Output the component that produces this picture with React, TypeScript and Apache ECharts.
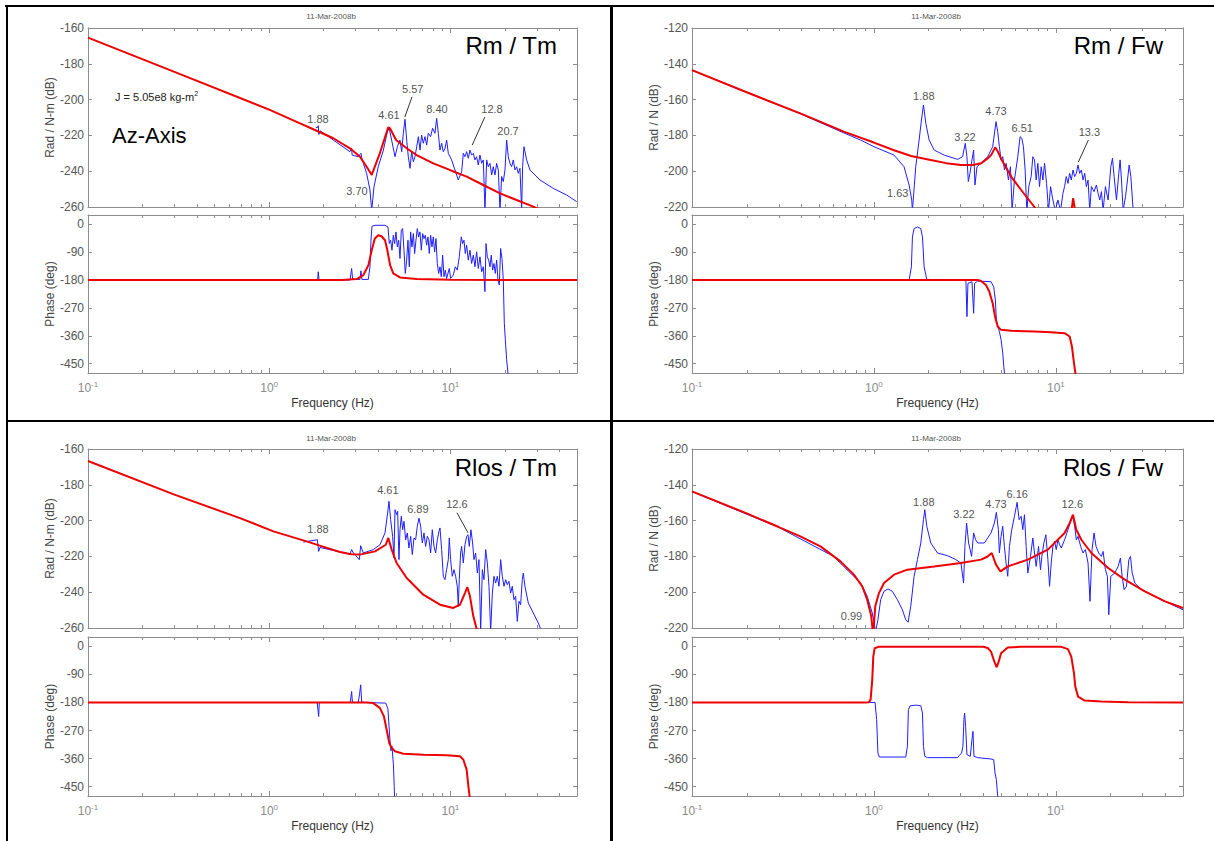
import { useEffect, useRef } from "react";
import * as echarts from "echarts";

type Pt = [number, number];
type Note = { t: string; f: number; v: number };

const FONT = "'Liberation Sans', Arial, Helvetica, sans-serif";
const AX = "#8c8c8c";
const BLUE = "#1f1fff";
const RED = "#ee0000";

// ---------- axis ticks ----------
const FREQ_MIN = 0.1;
const FREQ_MAX = 50;
const decadeTickFreqs = [0.1, 1, 10];
const minorTickFreqs = [0.2, 0.3, 0.4, 0.5, 0.6, 0.7, 0.8, 0.9, 2, 3, 4, 5, 6, 7, 8, 9, 20, 30, 40];
const phaseTickValues = [0, -90, -180, -270, -360, -450];
const PHASE_MIN = -480;
const PHASE_MAX = 30;

// ---------- Rm / Tm ----------
const rmTmMagModel: Pt[] = [
  [0.1, -165.4], [0.3, -184.5], [1.0, -205.6], [1.48, -213.3], [1.83, -217.4], [2.26, -221.6], [2.79, -227.2],
  [3.17, -231.9], [3.45, -237.5], [3.68, -242.1], [4.08, -230.0], [4.54, -215.5], [4.64, -216.0], [5.02, -222.6],
  [5.74, -227.2], [6.52, -231.0], [8.05, -235.6], [9.92, -239.3], [12.3, -243.0], [15.2, -247.7], [18.8, -252.4],
  [23.2, -256.1], [28.7, -259.8], [32, -262],
];
const rmTmMagMeas: Pt[] = [
  [1.81, -215.7], [1.85, -215.5], [1.867, -214.6], [1.88, -219.5], [1.91, -217.4], [2.26, -222.6], [2.79, -229.1],
  [2.85, -227.0], [2.87, -231.0], [3.10, -231.9], [3.21, -230.0], [3.25, -233.0], [3.31, -235.6], [3.45, -241.2],
  [3.60, -250.5], [3.68, -262], [3.79, -248.6], [4.00, -237.5], [4.27, -228.2], [4.49, -217.9], [4.60, -216.0],
  [4.74, -222.6], [4.95, -231.9], [5.10, -226.3], [5.27, -222.6], [5.39, -229.1], [5.50, -218.8], [5.62, -211.0],
  [5.74, -222.6], [5.86, -231.9], [5.99, -238.4], [6.11, -229.1], [6.25, -234.7], [6.38, -231.9], [6.52, -226.3],
  [6.66, -220.7], [6.80, -228.2], [6.94, -219.8], [7.09, -224.4], [7.24, -220.7], [7.40, -225.4], [7.55, -218.8],
  [7.78, -220.7], [7.98, -216.0], [8.22, -218.8], [8.40, -210.5], [8.58, -218.8], [8.76, -228.2], [8.95, -224.4],
  [9.14, -229.1], [9.34, -227.2], [9.54, -222.6], [9.74, -230.0], [10.16, -233.7], [10.60, -239.3], [11.06, -244.9],
  [11.54, -240.3], [11.79, -230.0], [12.04, -231.9], [12.30, -229.1], [12.56, -232.8], [12.83, -228.2], [13.10, -231.0],
  [13.39, -230.0], [13.67, -233.7], [13.96, -231.9], [14.26, -236.5], [14.57, -231.0], [14.88, -235.6], [15.20, -233.7],
  [15.52, -262], [15.86, -233.7], [16.20, -237.5], [16.54, -235.6], [16.90, -242.1], [17.26, -237.5], [17.63, -242.1],
  [18.01, -235.6], [18.39, -239.3], [18.79, -262], [19.19, -243.0], [19.60, -245.8], [20.02, -239.3], [20.45, -222.6],
  [20.88, -231.9], [21.33, -235.6], [21.79, -237.5], [22.25, -233.7], [22.73, -239.3], [23.22, -237.5], [23.71, -241.2],
  [24.22, -238.4], [24.74, -262], [25.05, -237.5], [25.48, -226.3], [26.36, -233.7], [27.50, -239.3], [31.22, -244.9],
  [36.99, -249.6], [43.82, -253.3], [49.78, -257.0],
];
const rmTmPhaseModel: Pt[] = [
  [0.1, -180], [2.5, -179.5], [3.04, -176.8], [3.31, -163.9], [3.53, -131.8], [3.68, -83.6], [3.83, -46.1],
  [4.0, -35.4], [4.17, -38.6], [4.36, -51.4], [4.49, -83.6], [4.65, -131.8], [4.84, -158.6], [5.27, -171.4],
  [6.52, -176.8], [10, -179], [50, -180],
];
const rmTmPhaseMeas: Pt[] = [
  [1.813, -180], [1.851, -177.9], [1.867, -153.2], [1.883, -177.9], [1.907, -180], [2.793, -180], [2.852, -142.5],
  [2.888, -177.9], [3.17, -177.9], [3.211, -150], [3.252, -177.9], [3.525, -177.9], [3.60, -137.1], [3.646, -51.4],
  [3.694, -6.4], [3.837, -3.2], [4.356, -3.2], [4.525, -8.6], [4.603, -62.1], [4.682, -51.4], [4.762, -83.6],
  [4.843, -35.4], [4.925, -62.1], [5.01, -24.6], [5.096, -72.9], [5.183, -51.4], [5.272, -110.4], [5.362, -19.3],
  [5.453, -13.9], [5.546, -83.6], [5.641, -158.6], [5.738, -115.7], [5.834, -51.4], [5.935, -137.1], [6.035, -24.6],
  [6.138, -72.9], [6.245, -30.0], [6.351, -94.3], [6.459, -51.4], [6.569, -13.9], [6.682, -40.7], [6.797, -24.6],
  [6.912, -83.6], [7.031, -30.0], [7.151, -46.1], [7.274, -35.4], [7.396, -67.5], [7.522, -40.7], [7.652, -94.3],
  [7.782, -35.4], [7.916, -72.9], [8.05, -40.7], [8.188, -88.9], [8.329, -46.1], [8.471, -126.4], [8.617, -158.6],
  [8.763, -137.1], [8.913, -169.3], [9.066, -99.6], [9.222, -169.3], [9.379, -147.9], [9.537, -174.6], [9.865, -142.5],
  [10.03, -174.6], [10.38, -163.9], [10.65, -137.1], [10.92, -147.9], [11.2, -105.0], [11.49, -40.7], [11.69, -62.1],
  [11.89, -51.4], [12.09, -94.3], [12.3, -67.5], [12.56, -115.7], [12.83, -83.6], [13.1, -126.4], [13.39, -99.6],
  [13.67, -137.1], [13.96, -88.9], [14.26, -142.5], [14.57, -105.0], [14.88, -153.2], [15.2, -137.1], [15.52, -217.5],
  [15.73, -62.1], [16.0, -105.0], [16.27, -115.7], [16.54, -137.1], [16.82, -99.6], [17.11, -147.9], [17.4, -126.4],
  [17.7, -158.6], [18.01, -115.7], [18.31, -180], [18.63, -196.1], [18.94, -78.2], [19.27, -110.4], [19.6, -180],
  [19.85, -319.3], [20.11, -372.9], [20.45, -437.1], [20.88, -490.7],
];
const rmTmNotes: Note[] = [
  { t: "1.88", f: 1.86, v: -211 }, { t: "3.70", f: 3.05, v: -251 }, { t: "4.61", f: 4.58, v: -208.6 },
  { t: "5.57", f: 6.2, v: -194 }, { t: "8.40", f: 8.43, v: -205 }, { t: "12.8", f: 16.97, v: -205 },
  { t: "20.7", f: 20.8, v: -217.5 },
];
const rmTmLeaders: Pt[][] = [
  [[6.14, -198.5], [5.61, -209.7]],
  [[15.5, -209.7], [13.2, -225.4]],
];

// ---------- Rm / Fw ----------
const rmFwMagModel: Pt[] = [
  [0.1, -143.5], [0.192, -155.2], [0.4, -168.0], [0.683, -177.9], [1.0, -184.0], [1.29, -188.3], [1.6, -191.5],
  [2.05, -193.7], [2.5, -195.5], [3.0, -196.5], [3.5, -196.5], [3.88, -195.6], [4.2, -193.0], [4.41, -191.0],
  [4.64, -186.7], [4.8, -189.0], [5.0, -193.0], [5.68, -203.0], [6.45, -210.5], [7.63, -220], [9, -232],
  [11.0, -240], [11.8, -232], [12.2, -222], [12.45, -215], [12.75, -222], [13.3, -236], [15, -250],
];
const rmFwMagMeas: Pt[] = [
  [0.1, -143.6], [0.4, -168.2], [0.683, -178.6], [0.845, -182.6], [1.0, -186.3], [1.29, -191.0], [1.464, -197.5],
  [1.561, -207.7], [1.614, -216.1], [1.628, -222], [1.698, -197.5], [1.772, -182.6], [1.825, -171.4], [1.872, -163.0],
  [1.929, -173.3], [2.012, -182.6], [2.144, -188.2], [2.434, -191.0], [2.884, -193.4], [3.072, -191.9], [3.178, -184.4],
  [3.246, -191.9], [3.302, -205.8], [3.372, -201.2], [3.459, -193.7], [3.533, -188.2], [3.593, -207.7], [3.686, -197.5],
  [3.878, -195.6], [4.22, -191.9], [4.496, -186.3], [4.691, -172.3], [4.791, -177.9], [4.894, -186.3], [5.0, -193.7],
  [5.107, -191.9], [5.217, -199.3], [5.328, -195.6], [5.488, -204.9], [5.629, -197.5], [5.749, -222], [5.921, -204.9],
  [6.177, -191.9], [6.363, -180.7], [6.499, -181.6], [6.638, -186.3], [6.78, -199.3], [6.925, -222], [7.104, -208.6],
  [7.317, -203.0], [7.474, -191.9], [7.634, -193.7], [7.797, -204.9], [7.964, -195.6], [8.134, -208.6], [8.309, -197.5],
  [8.486, -204.9], [8.668, -195.6], [8.891, -206.8], [9.119, -222], [9.354, -208.6], [9.636, -216.1], [9.925, -222],
  [10.27, -216.1], [10.62, -222], [10.94, -212.4], [11.17, -208.6], [11.41, -203.0], [11.66, -206.8], [11.91, -201.2],
  [12.16, -204.9], [12.43, -199.3], [12.69, -203.0], [12.96, -201.2], [13.24, -196.5], [13.52, -201.2], [13.81, -199.3],
  [14.11, -204.9], [14.41, -201.2], [14.72, -208.6], [15.03, -204.9], [15.36, -222], [15.68, -208.6], [16.22, -211.4],
  [16.71, -207.7], [17.07, -212.4], [17.43, -216.1], [17.81, -211.4], [18.19, -222], [18.73, -208.6], [19.38, -216.1],
  [20.05, -197.5], [20.48, -192.8], [20.91, -203.0], [21.54, -216.1], [22.18, -201.2], [22.56, -193.7], [22.95, -204.9],
  [23.44, -222], [24.15, -214.2], [24.77, -204.9], [25.3, -196.5], [25.84, -203.0], [26.62, -222],
];
const rmFwPhaseModel: Pt[] = [
  [0.1, -180], [3.717, -180], [3.878, -183.2], [4.131, -196.1], [4.31, -217.5], [4.496, -255.0], [4.632, -297.9],
  [4.791, -330.0], [5.0, -340.7], [5.675, -343.9], [7.634, -346.1], [9.434, -348.2], [11.17, -351.4], [11.91, -362.1],
  [12.26, -394.3], [12.58, -447.9], [12.96, -501.4],
];
const rmFwPhaseMeas: Pt[] = [
  [1.5, -180], [1.561, -180], [1.607, -137.1], [1.628, -40.7], [1.663, -13.9], [1.735, -8.6], [1.81, -13.9],
  [1.849, -40.7], [1.888, -137.1], [1.953, -177.9], [2.884, -180], [3.16, -180], [3.205, -185.4], [3.246, -297.9],
  [3.288, -190.7], [3.459, -185.4], [3.533, -287.1], [3.577, -190.7], [3.717, -183.2], [4.402, -185.4], [4.553, -201.4],
  [4.651, -244.3], [4.711, -308.6], [4.791, -330.0], [4.894, -346.1], [5.0, -372.9], [5.107, -415.7], [5.176, -458.6],
  [5.26, -501.4],
];
const rmFwNotes: Note[] = [
  { t: "1.63", f: 1.351, v: -212.2 }, { t: "1.88", f: 1.88, v: -158 }, { t: "3.22", f: 3.165, v: -180.9 },
  { t: "4.73", f: 4.69, v: -166.4 }, { t: "6.51", f: 6.53, v: -175.9 }, { t: "13.3", f: 15.28, v: -178.1 },
];
const rmFwLeaders: Pt[][] = [[[15.09, -182.6], [13.29, -194.9]]];

// ---------- Rlos / Tm ----------
const rlosTmMagModel: Pt[] = [
  [0.1, -166.7], [0.3, -185.5], [0.69, -198.6], [1.055, -206.0], [1.61, -211.6], [1.9, -214.0], [2.46, -217.5],
  [2.84, -218.8], [3.17, -219.0], [3.84, -217.2], [4.4, -213.5], [4.545, -209.7], [4.742, -216.2], [5.05, -223.7],
  [5.74, -232.1], [7.09, -241.4], [8.76, -247.0], [10.38, -248.8], [11.3, -247.0], [12.04, -240.5], [12.4, -237.1],
  [12.83, -242.3], [13.39, -253.5], [14.1, -262],
];
const rlosTmMagMeas: Pt[] = [
  [1.543, -212.0], [1.844, -210.7], [1.875, -217.2], [1.907, -215.0], [2.793, -218.8], [2.852, -216.2], [2.913, -218.1],
  [3.145, -221.8], [3.199, -214.0], [3.307, -218.1], [3.755, -216.2], [4.088, -213.5], [4.357, -206.9], [4.507, -195.8],
  [4.584, -189.2], [4.682, -199.5], [4.802, -208.8], [4.885, -220.9], [4.947, -193.9], [5.053, -196.7], [5.117, -194.8],
  [5.205, -221.8], [5.272, -205.1], [5.362, -197.6], [5.453, -205.1], [5.546, -200.4], [5.665, -210.7], [5.786, -206.9],
  [5.91, -215.3], [6.037, -208.8], [6.166, -219.0], [6.298, -209.7], [6.432, -210.7], [6.57, -203.2], [6.711, -198.6],
  [6.855, -203.2], [7.002, -212.5], [7.152, -206.9], [7.304, -214.4], [7.46, -208.8], [7.62, -210.7], [7.783, -218.1],
  [7.95, -205.1], [8.12, -214.4], [8.294, -218.1], [8.472, -210.7], [8.653, -206.0], [8.765, -204.1], [8.953, -216.2],
  [9.141, -231.1], [9.337, -233.0], [9.537, -227.4], [9.741, -221.8], [9.867, -209.7], [10.03, -221.8], [10.25, -231.1],
  [10.47, -227.4], [10.69, -231.1], [10.92, -236.7], [11.06, -247.9], [11.2, -233.0], [11.39, -218.1], [11.54, -214.4],
  [11.79, -223.7], [12.04, -213.5], [12.3, -208.8], [12.51, -207.9], [12.72, -214.4], [12.99, -205.1], [13.27, -212.5],
  [13.5, -221.8], [13.79, -218.1], [14.09, -229.3], [14.39, -221.8], [14.7, -262], [15.01, -227.4], [15.33, -233.0],
  [15.66, -216.2], [16.0, -223.7], [16.34, -236.7], [16.69, -262], [17.05, -240.5], [17.41, -231.1], [17.78, -234.9],
  [18.16, -231.1], [18.55, -236.7], [18.95, -221.8], [19.35, -231.1], [19.77, -236.7], [20.19, -233.0], [20.62, -235.8],
  [21.06, -233.9], [21.51, -240.5], [21.97, -236.7], [22.44, -244.2], [22.92, -242.3], [23.41, -256.3], [23.91, -245.1],
  [24.42, -247.0], [24.95, -233.0], [25.26, -229.3], [25.8, -236.7], [26.92, -246.0], [28.69, -251.6], [30.57, -257.2],
  [31.9, -262],
];
const rlosTmPhaseModel: Pt[] = [
  [0.1, -180], [3.45, -180], [3.755, -182], [4.09, -198.1], [4.3, -224.8], [4.45, -267.4], [4.6, -310.1],
  [4.742, -326.1], [4.947, -336.7], [5.5, -344.2], [7.09, -347.4], [9.537, -349.5], [11.3, -352.7], [11.79, -363.4],
  [12.3, -395.4], [12.57, -448.7], [12.83, -491.4],
];
const rlosTmPhaseMeas: Pt[] = [
  [1.543, -180], [1.84, -180], [1.875, -224.8], [1.89, -182], [1.91, -180], [2.8, -180], [2.852, -144.8],
  [2.88, -180], [3.1, -180], [3.15, -155.5], [3.2, -123.5], [3.24, -178], [3.35, -180], [4.4, -182], [4.52, -200],
  [4.64, -300], [4.70, -335], [4.76, -320], [4.85, -380], [4.9, -450], [4.93, -500],
];
const rlosTmNotes: Note[] = [
  { t: "1.88", f: 1.86, v: -204.5 }, { t: "4.61", f: 4.52, v: -182.7 }, { t: "6.89", f: 6.62, v: -193.4 },
  { t: "12.6", f: 10.87, v: -190.6 },
];
const rlosTmLeaders: Pt[][] = [[[10.87, -195.6], [12.51, -206.8]]];

// ---------- Rlos / Fw ----------
const rlosFwMagModel: Pt[] = [
  [0.1, -143.7], [0.2, -156.0], [0.3, -163.6], [0.394, -168.8], [0.508, -174.4], [0.655, -182.8], [0.776, -190.2],
  [0.863, -196.7], [0.919, -204.2], [0.967, -213.5], [0.99, -224], [1.017, -207.9], [1.066, -200.5], [1.136, -194.9],
  [1.29, -190.2], [1.528, -187.4], [2.143, -185.6], [3.008, -183.7], [3.877, -181.8], [4.2, -180.2], [4.441, -178.1],
  [4.691, -184.6], [4.956, -188.4], [5.44, -185.6], [7.014, -181.8], [9.04, -176.2], [11.17, -166.9], [11.91, -161.4],
  [12.42, -156.7], [12.96, -165.1], [13.81, -170.7], [15.68, -178.1], [19.38, -186.5], [23.94, -193.0], [30.86, -199.5],
  [39.79, -205.1], [50, -208.8],
];
const rlosFwMagMeas: Pt[] = [
  [0.1, -143.8], [0.3, -163.8], [0.6, -180.0], [0.845, -194.9], [0.919, -202.3], [0.979, -211.6], [1.022, -222],
  [1.052, -215.4], [1.089, -204.2], [1.136, -199.5], [1.195, -198.2], [1.263, -199.5], [1.346, -204.2], [1.434, -209.8],
  [1.496, -215.4], [1.541, -216.8], [1.594, -207.9], [1.663, -191.1], [1.735, -181.8], [1.81, -172.5], [1.872, -159.5],
  [1.904, -153.9], [1.953, -163.2], [2.054, -172.5], [2.236, -178.1], [2.54, -179.6], [2.822, -181.8], [3.008, -183.7],
  [3.111, -194.9], [3.164, -174.4], [3.232, -161.4], [3.315, -172.5], [3.443, -180.0], [3.533, -166.9], [3.624, -170.7],
  [3.717, -172.5], [4.045, -172.5], [4.402, -166.9], [4.593, -161.4], [4.711, -155.4], [4.832, -165.1], [4.893, -178.1],
  [4.998, -168.8], [5.105, -163.2], [5.214, -174.4], [5.326, -183.7], [5.44, -191.1], [5.557, -174.4], [5.724, -165.1],
  [5.921, -157.6], [6.125, -149.8], [6.282, -159.5], [6.444, -157.6], [6.581, -165.1], [6.722, -156.7], [6.866, -174.4],
  [7.014, -189.3], [7.255, -180.0], [7.474, -169.7], [7.634, -178.1], [7.797, -185.6], [8.032, -174.4], [8.237, -187.4],
  [8.377, -180.0], [8.593, -172.5], [8.814, -167.9], [9.043, -181.8], [9.236, -196.7], [9.432, -183.7], [9.634, -174.4],
  [9.84, -171.6], [10.05, -176.2], [10.27, -170.7], [10.49, -173.5], [10.71, -175.3], [11.17, -170.7], [11.66, -165.1],
  [12.16, -159.5], [12.42, -157.6], [12.69, -163.2], [12.96, -170.7], [13.24, -168.8], [13.69, -174.4], [14.1, -178.1],
  [14.53, -176.2], [15.03, -183.7], [15.41, -205.1], [15.81, -176.2], [16.22, -166.9], [16.63, -174.4], [17.21, -178.1],
  [17.8, -180.0], [18.18, -177.2], [18.73, -187.4], [19.2, -191.1], [19.54, -212.6], [20.05, -191.1], [21.09, -189.3],
  [21.99, -185.6], [22.65, -180.9], [23.14, -191.1], [23.74, -198.6], [24.45, -196.7], [25.19, -181.8], [25.72, -180.0],
  [26.28, -189.3], [27.19, -194.9], [29.58, -198.6], [35.04, -202.3], [41.5, -206.0], [50, -209.8],
];
const rlosFwPhaseModel: Pt[] = [
  [0.1, -180], [0.9, -180], [0.939, -179], [0.959, -171], [0.979, -107.5], [0.992, -33], [1.009, -6], [1.066, -1],
  [4.0, -1.5], [4.22, -5], [4.402, -17], [4.593, -49], [4.731, -67], [4.853, -49], [4.998, -22], [5.44, -4],
  [6.5, -1], [10.71, -1.5], [11.66, -9], [12.16, -33], [12.58, -86], [12.79, -129], [13.24, -161], [14.41, -174],
  [17.8, -177], [25, -179.5], [50, -180],
];
const rlosFwPhaseMeas: Pt[] = [
  [0.75, -180], [1.015, -180], [1.035, -235], [1.052, -342], [1.071, -355], [1.496, -355], [1.528, -321],
  [1.547, -203], [1.58, -191], [1.698, -188.5], [1.81, -190.6], [1.849, -214], [1.872, -321], [1.904, -352.7],
  [1.97, -357], [2.883, -357], [2.944, -350.6], [3.033, -342], [3.085, -321], [3.124, -235], [3.151, -214],
  [3.192, -256.7], [3.246, -347.4], [3.386, -352.7], [3.459, -299.4], [3.503, -272.7], [3.548, -352.7], [3.717, -357],
  [4.402, -361.3], [4.553, -363.4], [4.631, -406], [4.711, -427.4], [4.791, -480.7], [4.85, -500],
];
const rlosFwNotes: Note[] = [
  { t: "0.99", f: 0.753, v: -213.1 }, { t: "1.88", f: 1.88, v: -149.4 }, { t: "3.22", f: 3.125, v: -156.1 },
  { t: "4.73", f: 4.69, v: -150.6 }, { t: "6.16", f: 6.13, v: -145.0 }, { t: "12.6", f: 12.32, v: -150.6 },
];
const rlosFwLeaders: Pt[][] = [];

// ---------- layout ----------
const panels = [
  {
    title: "Rm / Tm", magName: "Rad / N-m (dB)", magMin: -260, magMax: -160,
    left: 88, width: 489, magTop: 28, phaseTop: 215, phaseH: 158, titleX: 557, titleY: 45, stampX: 331, stampY: 16,
    magMeas: rmTmMagMeas, magModel: rmTmMagModel, phMeas: rmTmPhaseMeas, phModel: rmTmPhaseModel,
    notes: rmTmNotes, leaders: rmTmLeaders,
  },
  {
    title: "Rm / Fw", magName: "Rad / N (dB)", magMin: -220, magMax: -120,
    left: 692, width: 491, magTop: 28, phaseTop: 215, phaseH: 158, titleX: 1163, titleY: 45, stampX: 936, stampY: 16,
    magMeas: rmFwMagMeas, magModel: rmFwMagModel, phMeas: rmFwPhaseMeas, phModel: rmFwPhaseModel,
    notes: rmFwNotes, leaders: rmFwLeaders,
  },
  {
    title: "Rlos / Tm", magName: "Rad / N-m (dB)", magMin: -260, magMax: -160,
    left: 88, width: 489, magTop: 449, phaseTop: 637, phaseH: 159, titleX: 557, titleY: 467, stampX: 331, stampY: 438,
    magMeas: rlosTmMagMeas, magModel: rlosTmMagModel, phMeas: rlosTmPhaseMeas, phModel: rlosTmPhaseModel,
    notes: rlosTmNotes, leaders: rlosTmLeaders,
  },
  {
    title: "Rlos / Fw", magName: "Rad / N (dB)", magMin: -220, magMax: -120,
    left: 692, width: 491, magTop: 449, phaseTop: 637, phaseH: 159, titleX: 1163, titleY: 467, stampX: 936, stampY: 438,
    magMeas: rlosFwMagMeas, magModel: rlosFwMagModel, phMeas: rlosFwPhaseMeas, phModel: rlosFwPhaseModel,
    notes: rlosFwNotes, leaders: rlosFwLeaders,
  },
];
const MAG_H = 179;

const X_MIN = Math.log10(FREQ_MIN);
const X_MAX = Math.log10(FREQ_MAX);
const majorX = decadeTickFreqs.map((f) => Math.log10(f));
const minorX = minorTickFreqs.map((f) => Math.log10(f));
const toXY = (pts: Pt[]) => pts.map(([f, v]) => [Math.log10(f), v]);

function xAxisDef(gridIndex: number, position: string, major: boolean, labels: boolean, name?: string) {
  return {
    type: "value",
    gridIndex,
    position,
    min: X_MIN,
    max: X_MAX,
    axisLine: { show: major, onZero: false, lineStyle: { color: AX, width: 1 } },
    axisTick: { show: true, inside: true, length: major ? 5 : 3, customValues: major ? majorX : minorX, lineStyle: { color: AX, width: 1 } },
    axisLabel: {
      show: labels,
      customValues: majorX,
      margin: 7,
      formatter: (v: number) => `{b|10}{s|${Math.round(v)}}`,
      rich: {
        b: { fontSize: 12, color: "#8a8a8a", fontFamily: FONT },
        s: { fontSize: 8, color: "#8a8a8a", fontFamily: FONT, padding: [0, 0, 8, 0] },
      },
    },
    splitLine: { show: false },
    name: name || "",
    nameLocation: "middle",
    nameGap: 24,
    nameTextStyle: { fontSize: 12, color: "#333", fontFamily: FONT },
  };
}

function yAxisDef(gridIndex: number, position: string, labels: boolean, kind: "mag" | "phase", p: any) {
  const base: any = {
    type: "value",
    gridIndex,
    position,
    axisLine: { show: true, onZero: false, lineStyle: { color: AX, width: 1 } },
    axisTick: { show: true, inside: true, length: 4, lineStyle: { color: AX } },
    splitLine: { show: false },
    axisLabel: { show: labels, margin: 4, fontSize: 12, color: "#555", fontFamily: FONT },
    nameLocation: "middle",
    nameGap: 31,
    nameRotate: 90,
    nameTextStyle: { fontSize: 12, color: "#444", fontFamily: FONT },
  };
  if (kind === "mag") {
    base.min = p.magMin;
    base.max = p.magMax;
    base.interval = 20;
    if (labels) base.name = p.magName;
  } else {
    base.min = PHASE_MIN;
    base.max = PHASE_MAX;
    base.axisTick.customValues = phaseTickValues;
    base.axisLabel.customValues = phaseTickValues;
    if (labels) base.name = "Phase (deg)";
  }
  return base;
}

function buildOption() {
  const grid: any[] = [];
  const xAxis: any[] = [];
  const yAxis: any[] = [];
  const series: any[] = [];
  const graphic: any[] = [];

  panels.forEach((p, i) => {
    const gMag = 2 * i;
    const gPh = 2 * i + 1;
    grid.push({ left: p.left, top: p.magTop, width: p.width, height: MAG_H });
    grid.push({ left: p.left, top: p.phaseTop, width: p.width, height: p.phaseH });
    [gMag, gPh].forEach((g) => {
      const isPh = g === gPh;
      xAxis.push(xAxisDef(g, "bottom", true, isPh, isPh ? "Frequency (Hz)" : undefined));
      xAxis.push(xAxisDef(g, "bottom", false, false));
      xAxis.push(xAxisDef(g, "top", true, false));
      xAxis.push(xAxisDef(g, "top", false, false));
      yAxis.push(yAxisDef(g, "left", true, isPh ? "phase" : "mag", p));
      yAxis.push(yAxisDef(g, "right", false, isPh ? "phase" : "mag", p));
    });
    const line = (g: number, data: Pt[], color: string, width: number, z: number) => ({
      type: "line",
      xAxisIndex: 4 * g,
      yAxisIndex: 2 * g,
      data: toXY(data),
      showSymbol: false,
      symbol: "none",
      silent: true,
      clip: true,
      z,
      lineStyle: { color, width },
    });
    series.push(line(gMag, p.magMeas, BLUE, 1, 2));
    series.push(line(gMag, p.magModel, RED, 2, 3));
    series.push(line(gPh, p.phMeas, BLUE, 1, 2));
    series.push(line(gPh, p.phModel, RED, 2, 3));
    p.leaders.forEach((l) => series.push(line(gMag, l, "#333", 1, 4)));
    series.push({
      type: "scatter",
      xAxisIndex: 4 * gMag,
      yAxisIndex: 2 * gMag,
      symbolSize: 1,
      silent: true,
      clip: false,
      itemStyle: { color: "rgba(0,0,0,0)" },
      label: { show: true, position: "inside", formatter: "{b}", fontSize: 11, color: "#222", fontFamily: FONT },
      data: p.notes.map((n) => ({ name: n.t, value: [Math.log10(n.f), n.v] })),
      z: 5,
    });
    graphic.push({
      type: "text", x: p.titleX, y: p.titleY, z: 10,
      style: { text: p.title, fontSize: 24, fontFamily: FONT, fill: "#000", align: "right", verticalAlign: "middle" },
    });
    graphic.push({
      type: "text", x: p.stampX, y: p.stampY, z: 10,
      style: { text: "11-Mar-2008b", fontSize: 8, fontFamily: FONT, fill: "#555", align: "center", verticalAlign: "middle" },
    });
  });

  graphic.push({
    type: "text", x: 112, y: 135, z: 10,
    style: { text: "Az-Axis", fontSize: 22, fontFamily: FONT, fill: "#000", align: "left", verticalAlign: "middle" },
  });
  graphic.push({
    type: "text", x: 115, y: 97, z: 10,
    style: {
      text: "{a|J = 5.05e8 kg-m}{s|2}",
      align: "left",
      verticalAlign: "middle",
      rich: {
        a: { fontSize: 11, fontFamily: FONT, fill: "#222" },
        s: { fontSize: 7, fontFamily: FONT, fill: "#222", padding: [0, 0, 7, 0] },
      },
    },
  });
  // frame lines
  const frame = [
    { x: 5, y: 5, width: 1209, height: 2 },
    { x: 6, y: 5, width: 2, height: 836 },
    { x: 610, y: 5, width: 3, height: 836 },
    { x: 6, y: 420, width: 1208, height: 2 },
  ];
  frame.forEach((r) => graphic.push({ type: "rect", shape: r, style: { fill: "#000" }, z: 20, silent: true }));

  return {
    animation: false,
    backgroundColor: "#fff",
    textStyle: { fontFamily: FONT },
    grid,
    xAxis,
    yAxis,
    series,
    graphic,
  };
}

export default function App() {
  const ref = useRef<HTMLDivElement>(null);
  useEffect(() => {
    document.body.style.margin = "0";
    const chart = echarts.init(ref.current!, null, { renderer: "svg" });
    chart.setOption(buildOption() as any);
    return () => chart.dispose();
  }, []);
  return <div ref={ref} style={{ width: 1214, height: 841 }} />;
}
